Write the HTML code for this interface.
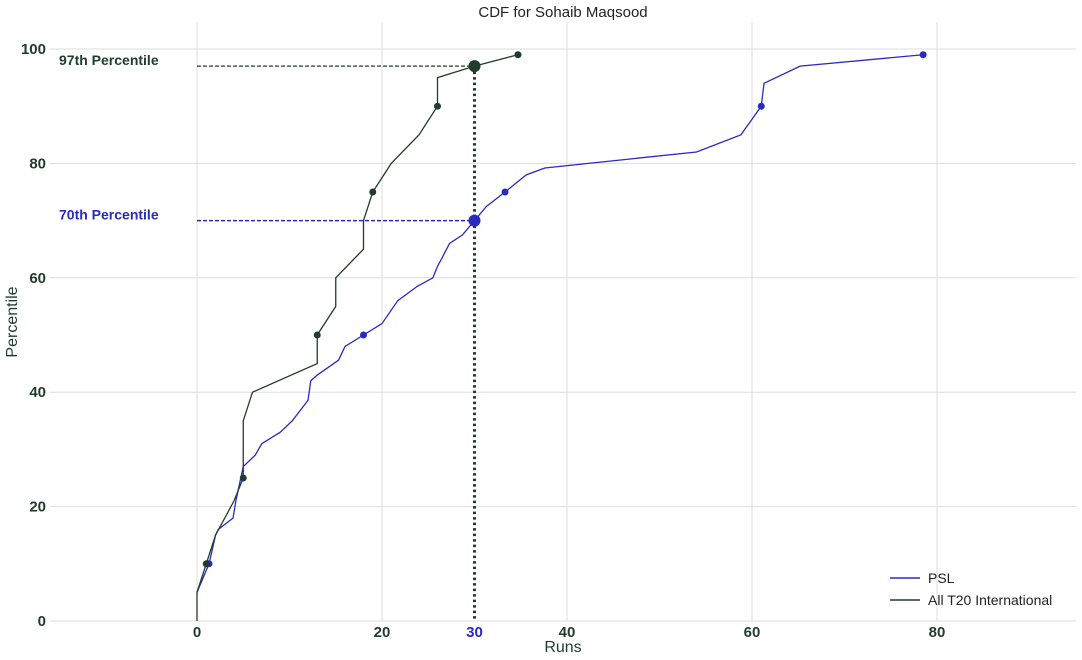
<!DOCTYPE html>
<html><head><meta charset="utf-8"><style>
body{margin:0;background:#fff;font-family:"Liberation Sans",sans-serif}
svg{display:block}
</style></head><body>
<svg id="chart" width="1082" height="660">
<text x="563" y="17" text-anchor="middle" font-size="15" fill="#222">CDF for Sohaib Maqsood</text>
<text x="563" y="652" text-anchor="middle" font-size="16" fill="#1f3d2a">Runs</text>
<text transform="translate(17,322) rotate(-90)" text-anchor="middle" font-size="16" fill="#1f3d2a">Percentile</text>
<g id="grid"></g><g id="marks"></g>
<g>
<line x1="890" y1="578" x2="920" y2="578" stroke="#2a2ac0" stroke-width="1.5"/>
<text x="928" y="583" font-size="14" fill="#222">PSL</text>
<line x1="890" y1="600" x2="920" y2="600" stroke="#1f3d2a" stroke-width="1.5"/>
<text x="928" y="605" font-size="14" fill="#222">All T20 International</text>
</g>
</svg>
<script>
const xTicks=[0,20,40,60,80];
const yTicks=[0,20,40,60,80,100];
const t20X=[0,0,1,2,4,5,5,6,13,13,15,15,18,18,19,21,24,26,26,30,34.7];
const t20Y=[0,5,10,15,21,25,35,40,45,50,55,60,65,70,75,80,85,90,95,97,99];
const t20MarkX=[1,5,13,19,26,34.7];
const t20MarkY=[10,25,50,75,90,99];
const pslX=[0,1.3,2,2.3,3.9,4.2,5,6.3,7,9,10.3,12,12.3,13,15.3,16,18,20,21.7,23.8,25.5,26,26.5,27.3,28.7,30,31.3,33.3,35.6,37.6,54,58.8,61,61.3,65.2,78.5];
const pslY=[5,10,15,16,18,21,27,29,31,33,35,38.6,42,43,45.6,48,50,52,56,58.5,60,62,63.5,66,67.5,70,72.5,75,78,79.2,82,85,90,94,97,99];
const pslMarkX=[1.3,18,33.3,61,78.5];
const pslMarkY=[10,50,75,90,99];
const GREEN="#1f3d2a",BLUE="#2a2ac0";
const L=50,R=1076,T=22,B=621;
const sx=v=>197+9.25*v, sy=v=>621-5.72*v;
const NS="http://www.w3.org/2000/svg";
const grid=document.getElementById('grid'),marks=document.getElementById('marks');
function mk(p,tag,a){const e=document.createElementNS(NS,tag);for(const k in a)e.setAttribute(k,a[k]);p.appendChild(e);return e;}
xTicks.forEach(v=>{const l=mk(grid,'line',{x1:sx(v),x2:sx(v),y1:T,y2:B,stroke:'#ddd'});


const t=mk(grid,'text',{x:sx(v),y:637,'text-anchor':'middle','font-size':15,'font-weight':'bold',fill:GREEN});t.textContent=v;

});
yTicks.forEach(v=>{const l=mk(grid,'line',{x1:L,x2:R,y1:sy(v),y2:sy(v),stroke:'#ddd'});


const t=mk(grid,'text',{x:46,y:sy(v)+5,'text-anchor':'end','font-size':15,'font-weight':'bold',fill:GREEN});t.textContent=v;

});
const t30=mk(grid,'text',{x:sx(30),y:637,'text-anchor':'middle','font-size':15,'font-weight':'bold',fill:BLUE});t30.textContent='30';


function line(xs,ys,c,n){const p=mk(marks,'polyline',{points:xs.map((x,i)=>sx(x)+','+sy(ys[i])).join(' '),fill:'none',stroke:c,'stroke-width':1.3});

}
function dots(xs,ys,c,n){xs.forEach((x,i)=>{const d=mk(marks,'circle',{cx:sx(x),cy:sy(ys[i]),r:3.5,fill:c});

});}
// reference lines
const h1=mk(marks,'line',{x1:sx(0),x2:sx(30),y1:sy(97),y2:sy(97),stroke:GREEN,'stroke-dasharray':'4,2','stroke-width':1.3});


const h2=mk(marks,'line',{x1:sx(0),x2:sx(30),y1:sy(70),y2:sy(70),stroke:BLUE,'stroke-dasharray':'4,2','stroke-width':1.5});


const v1=mk(marks,'line',{x1:sx(30),x2:sx(30),y1:sy(97),y2:sy(0),stroke:GREEN,'stroke-dasharray':'2.5,3','stroke-width':3});


line(pslX,pslY,BLUE,'psl-line');
line(t20X,t20Y,GREEN,'t20i-line');
dots(pslMarkX,pslMarkY,BLUE,'psl-point');
dots(t20MarkX,t20MarkY,GREEN,'t20i-point');
const b1=mk(marks,'circle',{cx:sx(30),cy:sy(97),r:6,fill:GREEN});


const b2=mk(marks,'circle',{cx:sx(30),cy:sy(70),r:6,fill:BLUE});


const a1=mk(marks,'text',{x:59,y:sy(97)-1,'font-size':14,'font-weight':'bold',fill:GREEN});a1.textContent='97th Percentile';


const a2=mk(marks,'text',{x:59,y:sy(70)-1,'font-size':14,'font-weight':'bold',fill:BLUE});a2.textContent='70th Percentile';


</script>
</body></html>
